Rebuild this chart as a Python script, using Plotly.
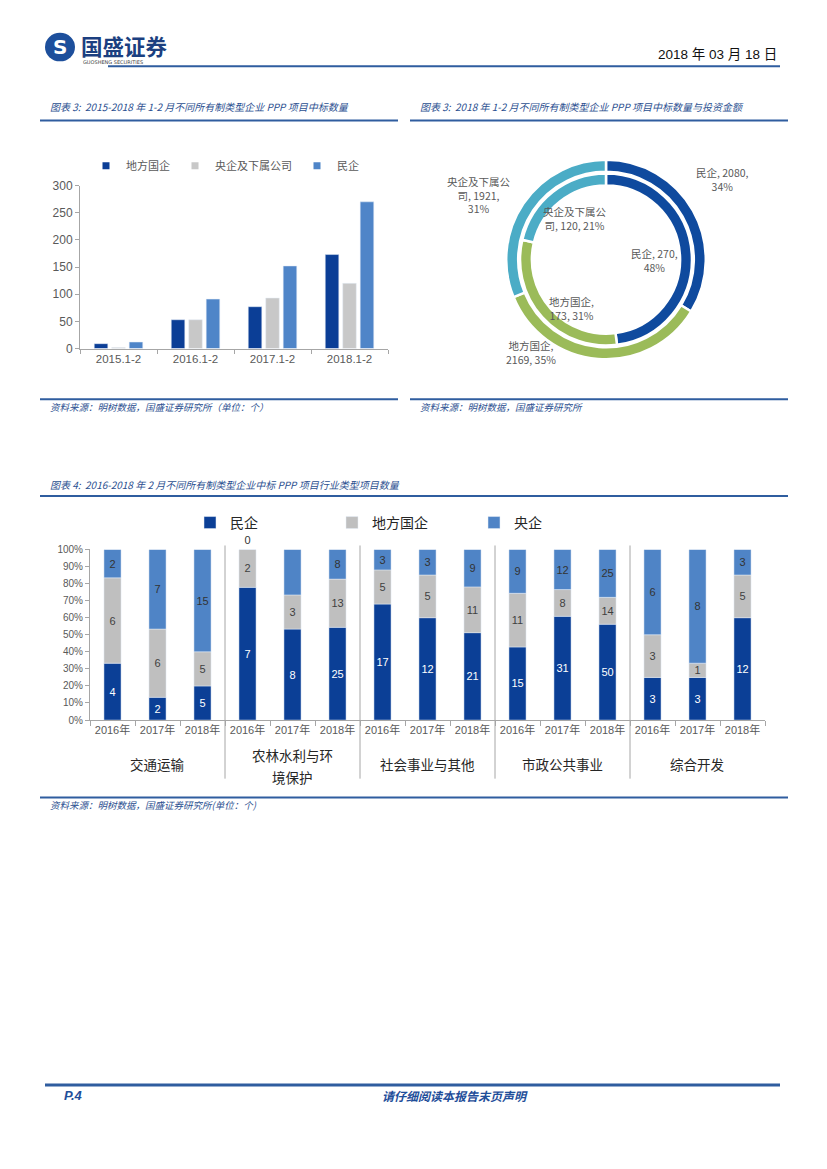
import plotly.graph_objects as go

W, H = 827, 1169

# ---------------- data ----------------
# Chart 1: 2015-2018 1-2月 中标数量
periods = ['2015.1-2', '2016.1-2', '2017.1-2', '2018.1-2']
local_soe = [9, 53, 77, 173]        # 地方国企
central_soe = [2, 53, 93, 120]      # 央企及下属公司
private_ent = [12, 91, 152, 270]    # 民企

# Chart 2: 2018 1-2月 中标数量与投资金额
donut_labels = ['民企', '地方国企', '央企及下属公司']
donut_amount = [2080, 2169, 1921]   # outer ring (投资金额)
donut_count = [270, 173, 120]       # inner ring (中标数量)

# Chart 3: 行业类型项目数量
industries = ['交通运输', '农林水利与环<br>境保护', '社会事业与其他', '市政公共事业', '综合开发']
years = ['2016年', '2017年', '2018年']
ind_private = [4, 2, 5, 7, 8, 25, 17, 12, 21, 15, 31, 50, 3, 3, 12]
ind_local = [6, 6, 5, 2, 3, 13, 5, 5, 11, 11, 8, 14, 3, 1, 5]
ind_central = [2, 7, 15, 0, 4, 8, 3, 3, 9, 9, 12, 25, 6, 8, 3]

# ---------------- helpers ----------------
def px(x):
    return x / W

def py(y):
    return 1 - y / H

FONT = "Liberation Sans, Noto Sans CJK SC, sans-serif"
CJK = "Noto Sans CJK SC, sans-serif"
BLUE_T = '#2B4F90'
LINE_B = '#2F5D9F'
AX = '#A6A6A6'
TK = '#595959'

C1_DARK, C1_GREY, C1_BLUE = '#0B3E96', '#C8C8C8', '#4F85C8'
P_DARK, P_GREEN, P_TEAL = '#0F4A9E', '#9BBB59', '#4BACC6'
C3_DARK, C3_GREY, C3_BLUE = '#0B3F96', '#BFBFBF', '#4F84C6'

fig = go.Figure()

# ---------------- chart 1 ----------------
for vals, name, col, off in [(local_soe, '地方国企', C1_DARK, -0.315),
                             (central_soe, '央企及下属公司', C1_GREY, -0.088),
                             (private_ent, '民企', C1_BLUE, 0.139)]:
    fig.add_trace(go.Bar(x=periods, y=vals, name=name, marker_color=col,
                         width=0.176, offset=off, xaxis='x', yaxis='y',
                         showlegend=False))
    fig.add_trace(go.Scatter(x=[None], y=[None], mode='markers', name=name,
                             marker=dict(symbol='square', size=7, color=col),
                             xaxis='x', yaxis='y', legend='legend'))

# ---------------- chart 2 (nested donut) ----------------
pie_colors = [P_DARK, P_GREEN, P_TEAL]
fig.add_trace(go.Pie(values=donut_amount, labels=donut_labels, hole=0.88,
                     sort=False, direction='clockwise', rotation=0,
                     marker=dict(colors=pie_colors, line=dict(color='white', width=2.5)),
                     textinfo='none', showlegend=False,
                     domain=dict(x=[px(505), px(707)], y=[py(356.6), py(154.6)])))
fig.add_trace(go.Pie(values=donut_count, labels=donut_labels, hole=0.862,
                     sort=False, direction='clockwise', rotation=0,
                     marker=dict(colors=pie_colors, line=dict(color='white', width=2.5)),
                     textinfo='none', showlegend=False,
                     domain=dict(x=[px(519), px(693)], y=[py(342.6), py(168.6)])))

tot_a = sum(donut_amount)
tot_c = sum(donut_count)
pa = [round(v / tot_a * 100) for v in donut_amount]
pc = [round(v / tot_c * 100) for v in donut_count]
pie_texts = [
    (f"{donut_labels[0]}, {donut_amount[0]},<br>{pa[0]}%", 722, 175),
    (f"地方国企,<br>{donut_amount[1]}, {pa[1]}%", 531, 350),
    (f"央企及下属公<br>司, {donut_amount[2]},<br>{pa[2]}%", 479, 190),
    (f"{donut_labels[0]}, {donut_count[0]},<br>{pc[0]}%", 654, 257),
    (f"地方国企,<br>{donut_count[1]}, {pc[1]}%", 571, 305),
    (f"央企及下属公<br>司, {donut_count[2]}, {pc[2]}%", 575, 214),
]

# ---------------- chart 3 ----------------
cats = [f"{i}-{yr}" for i in range(len(industries)) for yr in years]
tot3 = [a + b + c for a, b, c in zip(ind_private, ind_local, ind_central)]
p_pct = [a / t * 100 for a, t in zip(ind_private, tot3)]
l_pct = [b / t * 100 for b, t in zip(ind_local, tot3)]
c_pct = [c / t * 100 for c, t in zip(ind_central, tot3)]
base_l = p_pct
base_c = [a + b for a, b in zip(p_pct, l_pct)]

common = dict(x=cats, width=0.38, xaxis='x2', yaxis='y2', legend='legend2',
              textangle=0, constraintext='none', insidetextanchor='middle',
              cliponaxis=False, hoverinfo='skip')
fig.add_trace(go.Bar(y=p_pct, base=[0] * len(cats), name='民企', marker_color=C3_DARK,
                     text=ind_private, textposition='inside',
                     textfont=dict(color='white', size=11, family=FONT), **common))
fig.add_trace(go.Bar(y=l_pct, base=base_l, name='地方国企', marker_color=C3_GREY,
                     text=ind_local, textposition='inside',
                     textfont=dict(color='#3F3F3F', size=11, family=FONT), **common))
fig.add_trace(go.Bar(y=c_pct, base=base_c, name='央企', marker_color=C3_BLUE,
                     text=ind_central,
                     textposition=['outside' if v == 0 else 'inside' for v in ind_central],
                     textfont=dict(color='#333333', size=11, family=FONT), **common))

# ---------------- annotations ----------------
ann = []

def txt(text, x, y, size=10, color='#000', xanchor='left', yanchor='middle',
        family=CJK, italic=False, bold=False, align='left', xref='paper'):
    t = text
    if bold:
        t = f"<b>{t}</b>"
    if italic:
        t = f"<i>{t}</i>"
    ann.append(dict(text=t, x=x, y=y, xref=xref, yref='paper', showarrow=False,
                    xanchor=xanchor, yanchor=yanchor, align=align,
                    font=dict(size=size, color=color, family=family)))

# header
txt('S', px(60), py(40.5), size=20, color='white', xanchor='center', family='DejaVu Sans', bold=True)
txt('国盛证券', px(79), py(39), size=21.5, color='#1B3F80', bold=True)
txt('GUOSHENG SECURITIES', px(81), py(56), size=5, color='#444', family='DejaVu Sans')
txt('2018 年 03 月 18 日', px(779), py(48), size=13.5, color='#111', xanchor='right', family=FONT)

# titles
txt('图表 3:  2015-2018 年 1-2 月不同所有制类型企业 PPP 项目中标数量', px(48), py(101),
    size=10, color=BLUE_T, italic=True)
txt('图表 3:  2018 年 1-2 月不同所有制类型企业 PPP 项目中标数量与投资金额', px(418), py(101),
    size=10, color=BLUE_T, italic=True)
txt('资料来源：明树数据，国盛证券研究所（单位：个）', px(48), py(405), size=9.5, color=BLUE_T, italic=True)
txt('资料来源：明树数据，国盛证券研究所', px(418), py(405), size=9.5, color=BLUE_T, italic=True)
txt('图表 4:  2016-2018 年 2 月不同所有制类型企业中标 PPP 项目行业类型项目数量', px(48), py(483),
    size=10, color=BLUE_T, italic=True)
txt('资料来源：明树数据，国盛证券研究所(单位：个)', px(48), py(808), size=9.5, color=BLUE_T, italic=True)

# footer
txt('P.4', px(62), py(1102), size=13, color='#1F4E9A', italic=True, bold=True, family=FONT)
txt('请仔细阅读本报告末页声明', px(455), py(1102), size=12, color='#1F4E9A', italic=True,
    bold=True, xanchor='center')

# donut labels
for t, x, y in pie_texts:
    txt(t, px(x), py(y), size=10.5, color='#595959', xanchor='center', align='center')

# chart 3 group labels (wrapped labels drawn one line at a time, 22px apart)
for i, ind in enumerate(industries):
    lines = ind.split('<br>')
    y0 = 766 - (len(lines) - 1) * 11 + 2 * (len(lines) - 1)
    for j, ln in enumerate(lines):
        txt(ln, cats[i * 3 + 1], py(y0 + 22 * j), size=13.5, color='#262626',
            xanchor='center', align='center', xref='x2')

# ---------------- shapes ----------------
shapes = []

def hline(x0, x1, y, w=2, color=LINE_B):
    shapes.append(dict(type='line', xref='paper', yref='paper', x0=px(x0), x1=px(x1),
                       y0=py(y), y1=py(y), line=dict(color=color, width=w)))

shapes.append(dict(type='circle', xref='paper', yref='paper', x0=px(45), x1=px(75),
                   y0=py(55), y1=py(26), fillcolor='#1D4F9C', line=dict(width=0)))
hline(108, 780, 60, 2)
hline(40, 398, 115, 2)
hline(410, 788, 115, 2)
hline(40, 398, 397, 2)
hline(410, 788, 397, 2)
hline(40, 788, 495, 2)
hline(40, 788, 800, 2)
hline(45, 780, 1091, 3)

for k in range(1, len(industries)):
    xd = k * len(years) - 0.5
    shapes.append(dict(type='line', xref='x2', yref='paper', x0=xd, x1=xd,
                       y0=py(781), y1=py(545), line=dict(color=AX, width=1)))

# ---------------- layout ----------------
fig.update_layout(
    width=W, height=H, margin=dict(l=0, r=0, t=0, b=0),
    paper_bgcolor='white', plot_bgcolor='white',
    font=dict(family=FONT, size=11, color=TK),
    barmode='overlay',
    annotations=ann, shapes=shapes,
    xaxis=dict(domain=[px(80), px(388)], type='category', range=[-0.5, 3.5],
               showline=True, linecolor=AX, ticks='outside', ticklen=4, tickcolor=AX,
               tickson='boundaries', showgrid=False, tickfont=dict(size=11.5, color=TK),
               anchor='y'),
    yaxis=dict(domain=[py(345.7), py(180.7)], range=[0, 300], dtick=50,
               showline=True, linecolor=AX, ticks='outside', ticklen=4, tickcolor=AX,
               showgrid=False, zeroline=False, tickfont=dict(size=12, color=TK),
               anchor='x'),
    xaxis2=dict(domain=[px(90), px(765)], type='category', range=[-0.5, len(cats) - 0.5],
                tickvals=cats, ticktext=years * len(industries),
                showline=True, linecolor=AX, ticks='outside', ticklen=5, tickcolor=AX,
                tickson='boundaries', showgrid=False, tickfont=dict(size=11, color=TK),
                anchor='y2'),
    yaxis2=dict(domain=[py(721.7), py(549)], range=[0, 100], dtick=10, ticksuffix='%',
                showline=True, linecolor=AX, ticks='outside', ticklen=4, tickcolor=AX,
                showgrid=False, zeroline=False, tickfont=dict(size=10, color=TK),
                anchor='x2'),
    legend=dict(orientation='h', x=px(86), y=py(146), xanchor='left', yanchor='top',
                font=dict(size=11, color=TK, family=CJK), bgcolor='rgba(0,0,0,0)',
                itemclick=False, tracegroupgap=0),
    legend2=dict(orientation='h', x=px(190), y=py(506), xanchor='left', yanchor='top',
                 font=dict(size=14, color='#262626', family=CJK), bgcolor='rgba(0,0,0,0)',
                 entrywidth=97, itemclick=False),
)

fig.write_html("out.html", config={'displayModeBar': False},
               post_script="document.body.style.margin='0px';document.body.style.overflow='hidden';")
